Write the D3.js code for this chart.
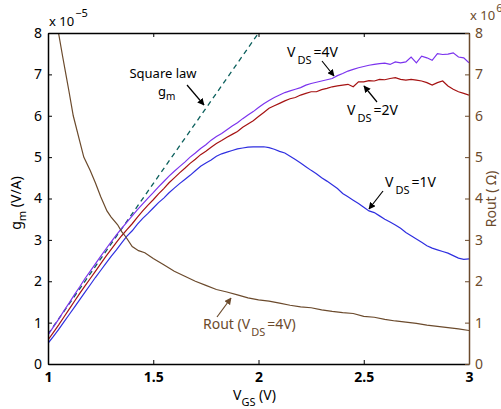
<!DOCTYPE html>
<html>
<head>
<meta charset="utf-8">
<script src="https://cdn.jsdelivr.net/npm/d3@7"></script>
<style>
  body { margin: 0; padding: 0; background: #fff; }
  svg text { font-family: "Noto Sans", "Open Sans", sans-serif; }
</style>
</head>
<body>
<script>
// gm values are in units of 1e-5 A/V, Rout in units of 1e6 Ohm
var vgs = [1.000,1.025,1.050,1.075,1.100,1.125,1.150,1.175,1.200,1.225,1.250,1.275,1.300,1.325,1.350,1.375,1.400,1.425,1.450,1.475,
  1.500,1.525,1.550,1.575,1.600,1.625,1.650,1.675,1.700,1.725,1.750,1.775,1.800,1.825,1.850,1.875,1.900,1.925,1.950,1.975,
  2.000,2.025,2.050,2.075,2.100,2.125,2.150,2.175,2.200,2.225,2.250,2.275,2.300,2.325,2.350,2.375,2.400,2.425,2.450,2.475,
  2.500,2.525,2.550,2.575,2.600,2.625,2.650,2.675,2.700,2.725,2.750,2.775,2.800,2.825,2.850,2.875,2.900,2.925,2.950,2.975,3.000];

var gm4V = [0.70,0.89,1.08,1.28,1.47,1.67,1.86,2.06,2.24,2.42,2.60,2.78,2.95,3.12,3.28,3.43,3.58,3.73,3.87,4.01,
  4.14,4.28,4.41,4.54,4.66,4.77,4.88,5.00,5.10,5.21,5.30,5.41,5.50,5.57,5.66,5.75,5.83,5.93,6.02,6.10,
  6.20,6.29,6.37,6.44,6.50,6.56,6.60,6.64,6.68,6.74,6.78,6.81,6.84,6.87,6.90,6.97,7.02,7.08,7.12,7.16,
  7.19,7.22,7.24,7.26,7.27,7.24,7.30,7.28,7.30,7.42,7.28,7.44,7.40,7.34,7.50,7.48,7.49,7.52,7.42,7.40,7.28];

var gm2V = [0.58,0.76,0.94,1.13,1.32,1.51,1.70,1.88,2.06,2.24,2.42,2.60,2.77,2.94,3.10,3.25,3.39,3.55,3.70,3.84,
  3.97,4.11,4.24,4.38,4.50,4.62,4.73,4.85,4.95,5.06,5.14,5.24,5.33,5.40,5.48,5.55,5.62,5.72,5.80,5.88,
  5.98,6.08,6.18,6.24,6.30,6.36,6.41,6.44,6.50,6.54,6.58,6.58,6.63,6.66,6.70,6.72,6.74,6.76,6.70,6.82,
  6.82,6.85,6.84,6.88,6.87,6.90,6.92,6.88,6.86,6.88,6.86,6.84,6.80,6.74,6.80,6.84,6.72,6.64,6.58,6.54,6.50];

var gm1V = [0.50,0.66,0.83,1.01,1.19,1.37,1.55,1.73,1.91,2.09,2.26,2.43,2.60,2.76,2.93,3.09,3.22,3.38,3.52,3.64,
  3.77,3.90,4.01,4.14,4.25,4.36,4.46,4.56,4.67,4.78,4.86,4.93,5.02,5.08,5.12,5.16,5.20,5.22,5.24,5.25,
  5.25,5.25,5.23,5.19,5.14,5.10,5.02,4.94,4.86,4.77,4.68,4.60,4.50,4.42,4.33,4.24,4.12,4.04,3.96,3.88,
  3.79,3.70,3.66,3.58,3.50,3.43,3.36,3.28,3.18,3.10,3.02,2.94,2.86,2.80,2.76,2.72,2.68,2.62,2.56,2.53,2.54];

var sqVgs = [1.0, 2.0];
var sqGm = [0.72, 8.0];

var routVgs = [1.04,1.05,1.07,1.085,1.10,1.12,1.15,1.17,1.20,1.225,1.25,1.28,1.30,1.33,1.35,1.37,1.40,1.43,1.46,1.50,
  1.55,1.60,1.65,1.70,1.75,1.80,1.85,1.90,1.95,2.00,2.05,2.10,2.15,2.20,2.25,2.30,2.35,2.40,2.45,2.50,
  2.55,2.60,2.65,2.70,2.75,2.80,2.85,2.90,2.95,3.00];
var rout = [8.35,8.0,7.42,7.0,6.58,6.0,5.40,5.0,4.68,4.38,4.05,3.70,3.55,3.37,3.20,3.07,2.84,2.74,2.69,2.55,
  2.40,2.24,2.12,2.00,1.90,1.80,1.74,1.67,1.60,1.55,1.52,1.47,1.42,1.38,1.36,1.31,1.27,1.24,1.22,1.15,
  1.13,1.08,1.04,1.01,0.98,0.94,0.91,0.88,0.85,0.81];

var xTicks = [1, 1.5, 2, 2.5, 3];
var yTicks = [0, 1, 2, 3, 4, 5, 6, 7, 8];

var brown = "#6b4a2c";
var W = 501, H = 409;
var L = 48, R = 469, T = 33, B = 364;

var svg = d3.select("body").append("svg").attr("width", W).attr("height", H);

var x = d3.scaleLinear().domain([1, 3]).range([L, R]);
var y = d3.scaleLinear().domain([0, 8]).range([B, T]);
var y2 = d3.scaleLinear().domain([0, 8]).range([B, T]);

svg.append("clipPath").attr("id", "plot")
  .append("rect").attr("x", L).attr("y", T).attr("width", R - L).attr("height", B - T);

var g = svg.append("g").attr("clip-path", "url(#plot)");

function pts(xs, ys) { return xs.map(function (d, i) { return [d, ys[i]]; }); }
var line = d3.line().x(function (d) { return x(d[0]); }).y(function (d) { return y(d[1]); });
var line2 = d3.line().x(function (d) { return x(d[0]); }).y(function (d) { return y2(d[1]); });

g.append("path").attr("d", line(pts(sqVgs, sqGm)))
  .attr("fill", "none").attr("stroke", "#0b5f5c").attr("stroke-width", 1.3).attr("stroke-dasharray", "5,4");
g.append("path").attr("d", line(pts(vgs, gm1V)))
  .attr("fill", "none").attr("stroke", "#2f2fe0").attr("stroke-width", 1.2);
g.append("path").attr("d", line(pts(vgs, gm2V)))
  .attr("fill", "none").attr("stroke", "#a51212").attr("stroke-width", 1.2);
g.append("path").attr("d", line(pts(vgs, gm4V)))
  .attr("fill", "none").attr("stroke", "#7b33ee").attr("stroke-width", 1.2);
g.append("path").attr("d", line2(pts(routVgs, rout)))
  .attr("fill", "none").attr("stroke", brown).attr("stroke-width", 1.2);

// axes
var ax = svg.append("g").attr("transform", "translate(0," + B + ")")
  .call(d3.axisBottom(x).tickValues(xTicks).tickSize(-4).tickSizeOuter(0).tickPadding(8)
    .tickFormat(function (d) { return d; }));
ax.selectAll("text").attr("font-size", 14).attr("font-weight", "bold").attr("fill", "#000");

var axTop = svg.append("g").attr("transform", "translate(0," + T + ")")
  .call(d3.axisTop(x).tickValues(xTicks).tickSize(-4).tickSizeOuter(0).tickFormat(""));

var ayL = svg.append("g").attr("transform", "translate(" + L + ",0)")
  .call(d3.axisLeft(y).tickValues(yTicks).tickSize(-4).tickSizeOuter(0).tickPadding(6));
ayL.selectAll("text").attr("font-size", 14).attr("fill", "#000");

var ayR = svg.append("g").attr("transform", "translate(" + R + ",0)")
  .call(d3.axisRight(y2).tickValues(yTicks).tickSize(-4).tickSizeOuter(0).tickPadding(6));
ayR.selectAll("text").attr("font-size", 14).attr("fill", brown);
ayR.selectAll("line").attr("stroke", brown);
ayR.select(".domain").attr("stroke", brown).attr("stroke-width", 1.5);

[ax, axTop, ayL].forEach(function (a) {
  a.select(".domain").attr("stroke", "#000").attr("stroke-width", 1.5);
  a.selectAll("line").attr("stroke", "#000");
});

// exponent labels
var e1 = svg.append("text").attr("x", 49).attr("y", 26).attr("font-size", 13).attr("fill", "#000");
e1.append("tspan").text("x 10");
e1.append("tspan").attr("dy", -9).attr("dx", 1).attr("font-size", 11).text("\u22125");

var e2 = svg.append("text").attr("x", 470).attr("y", 20).attr("font-size", 13).attr("fill", brown);
e2.append("tspan").text("x 10");
e2.append("tspan").attr("dy", -8).attr("dx", 1).attr("font-size", 11).text("6");

// axis titles
var xl = svg.append("text").attr("x", 233).attr("y", 400).attr("font-size", 14).attr("fill", "#000");
xl.append("tspan").text("V");
xl.append("tspan").attr("dy", 6).attr("font-size", 11).text("GS");
xl.append("tspan").attr("dy", -6).text(" (V)");

var yl = svg.append("text").attr("transform", "translate(21,203) rotate(-90)")
  .attr("text-anchor", "middle").attr("font-size", 14).attr("fill", "#000");
yl.append("tspan").text("g");
yl.append("tspan").attr("dy", 5).attr("font-size", 11).text("m");
yl.append("tspan").attr("dy", -5).text(" (V/A)");

svg.append("text").attr("transform", "translate(496,199) rotate(-90)")
  .attr("text-anchor", "middle").attr("font-size", 14).attr("fill", brown).text("Rout ( \u03a9)");

// annotations
svg.append("defs").selectAll("marker").data([["ahBlack", "#000"], ["ahBrown", brown]]).enter()
  .append("marker").attr("id", function (d) { return d[0]; })
  .attr("viewBox", "0 0 10 10").attr("refX", 9).attr("refY", 5)
  .attr("markerWidth", 7).attr("markerHeight", 7).attr("markerUnits", "userSpaceOnUse")
  .attr("orient", "auto")
  .append("path").attr("d", "M0,0L10,5L0,10z").attr("fill", function (d) { return d[1]; });

function arrow(x1, y1, x2, y2, col, id) {
  svg.append("line").attr("x1", x1).attr("y1", y1).attr("x2", x2).attr("y2", y2)
    .attr("stroke", col).attr("stroke-width", 1.2).attr("marker-end", "url(#" + id + ")");
}
function vds(px, py, rest, col) {
  var t = svg.append("text").attr("x", px).attr("y", py).attr("font-size", 14).attr("fill", col);
  t.append("tspan").text("V");
  t.append("tspan").attr("dy", 7).attr("dx", 2).attr("font-size", 11).text("DS");
  t.append("tspan").attr("dy", -7).attr("dx", 2).text(rest);
  return t;
}

svg.append("text").attr("x", 163).attr("y", 78).attr("text-anchor", "middle")
  .attr("font-size", 13).attr("fill", "#000").text("Square law");
var gmT = svg.append("text").attr("x", 158).attr("y", 96).attr("font-size", 13).attr("fill", "#000");
gmT.append("tspan").text("g");
gmT.append("tspan").attr("dy", 4).attr("font-size", 10).text("m");
arrow(187, 85, 204, 105, "#000", "ahBlack");

vds(287, 57, "=4V", "#000");
arrow(322, 61, 334, 76, "#000", "ahBlack");

vds(347, 115, "=2V", "#000");
arrow(377, 102, 364, 86, "#000", "ahBlack");

vds(385, 187, "=1V", "#000");
arrow(383, 191, 369, 209, "#000", "ahBlack");

var rt = svg.append("text").attr("x", 203).attr("y", 329).attr("font-size", 14).attr("fill", brown);
rt.append("tspan").text("Rout (V");
rt.append("tspan").attr("dy", 7).attr("dx", 1).attr("font-size", 11).text("DS");
rt.append("tspan").attr("dy", -7).attr("dx", 2).text("=4V)");
arrow(217, 317, 231, 298, brown, "ahBrown");
</script>
</body>
</html>
